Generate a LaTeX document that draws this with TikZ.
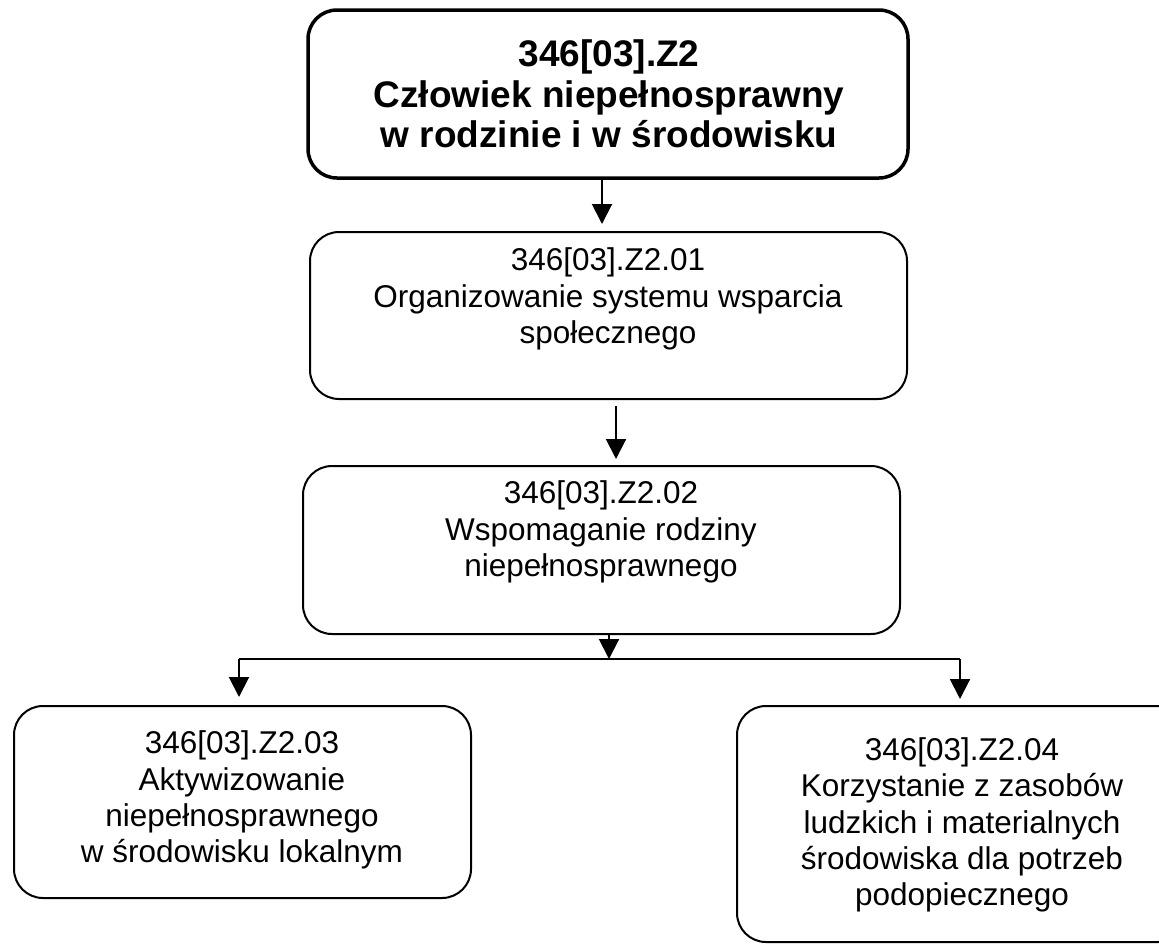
\documentclass[tikz,border=0pt]{standalone}
\usepackage{fontspec}
\setmainfont{Liberation Sans}
\usetikzlibrary{arrows.meta}
\tikzset{
  box/.style={draw=black, line width=2pt, rounded corners=29pt, fill=white, inner sep=0pt},
  topbox/.style={box, line width=3.5pt},
  txt/.style={align=center, inner sep=0pt, font=\fontsize{31.5}{36.2}\selectfont},
  toptxt/.style={align=center, inner sep=0pt, font=\fontsize{37}{40.5}\selectfont\bfseries},
  arr/.style={draw=black, line width=2pt, -{Triangle[length=20pt, width=20pt]}},
  conn/.style={draw=black, line width=2pt}
}
\begin{document}
\begin{tikzpicture}[x=1pt, y=-1pt]
\useasboundingbox (0,0) rectangle (1159,945);
\clip (0,0) rectangle (1159,945);
\fill[white] (0,0) rectangle (1159,945);

\node[topbox, minimum width=600pt, minimum height=168pt] (b1) at (608,94) {};
\node[box, minimum width=597pt, minimum height=167pt] (b2) at (608.5,315.5) {};
\node[box, minimum width=597pt, minimum height=168pt] (b3) at (601.5,550) {};
\node[box, minimum width=457pt, minimum height=192pt] (b4) at (242.5,802) {};
\node[box, minimum width=450pt, minimum height=236pt] (b5) at (962,824) {};

\node[toptxt] (t1) at (609,94) {346[03].Z2\\Człowiek niepełnosprawny\\w rodzinie i w środowisku};
\node[txt] (t2) at (608,299) {346[03].Z2.01\\Organizowanie systemu wsparcia\\społecznego};
\node[txt] (t3) at (601,532) {346[03].Z2.02\\Wspomaganie rodziny\\niepełnosprawnego};
\node[txt] (t4) at (242,800) {346[03].Z2.03\\Aktywizowanie\\niepełnosprawnego\\w środowisku lokalnym};
\node[txt] (t5) at (962,825) {346[03].Z2.04\\Korzystanie z zasobów\\ludzkich i materialnych\\środowiska dla potrzeb\\podopiecznego};

\draw[arr, shorten >=7pt] ([xshift=-6pt]b1.south) -- ([xshift=-6pt]b1.south |- b2.north);
\draw[arr, shorten <=6pt, shorten >=6pt] ([xshift=7.5pt]b2.south) -- ([xshift=7.5pt]b2.south |- b3.north);

\coordinate (hub) at (609,659);
\coordinate (hl) at (239,659);
\coordinate (hr) at (960,659);
\draw[arr] ([xshift=7.5pt]b3.south) -- (hub);
\draw[conn] (hl) -- (hr);
\draw[arr, shorten >=8pt] (hl) -- (hl |- b4.north);
\draw[arr, shorten >=6pt] (hr) -- (hr |- b5.north);
\end{tikzpicture}
\end{document}
